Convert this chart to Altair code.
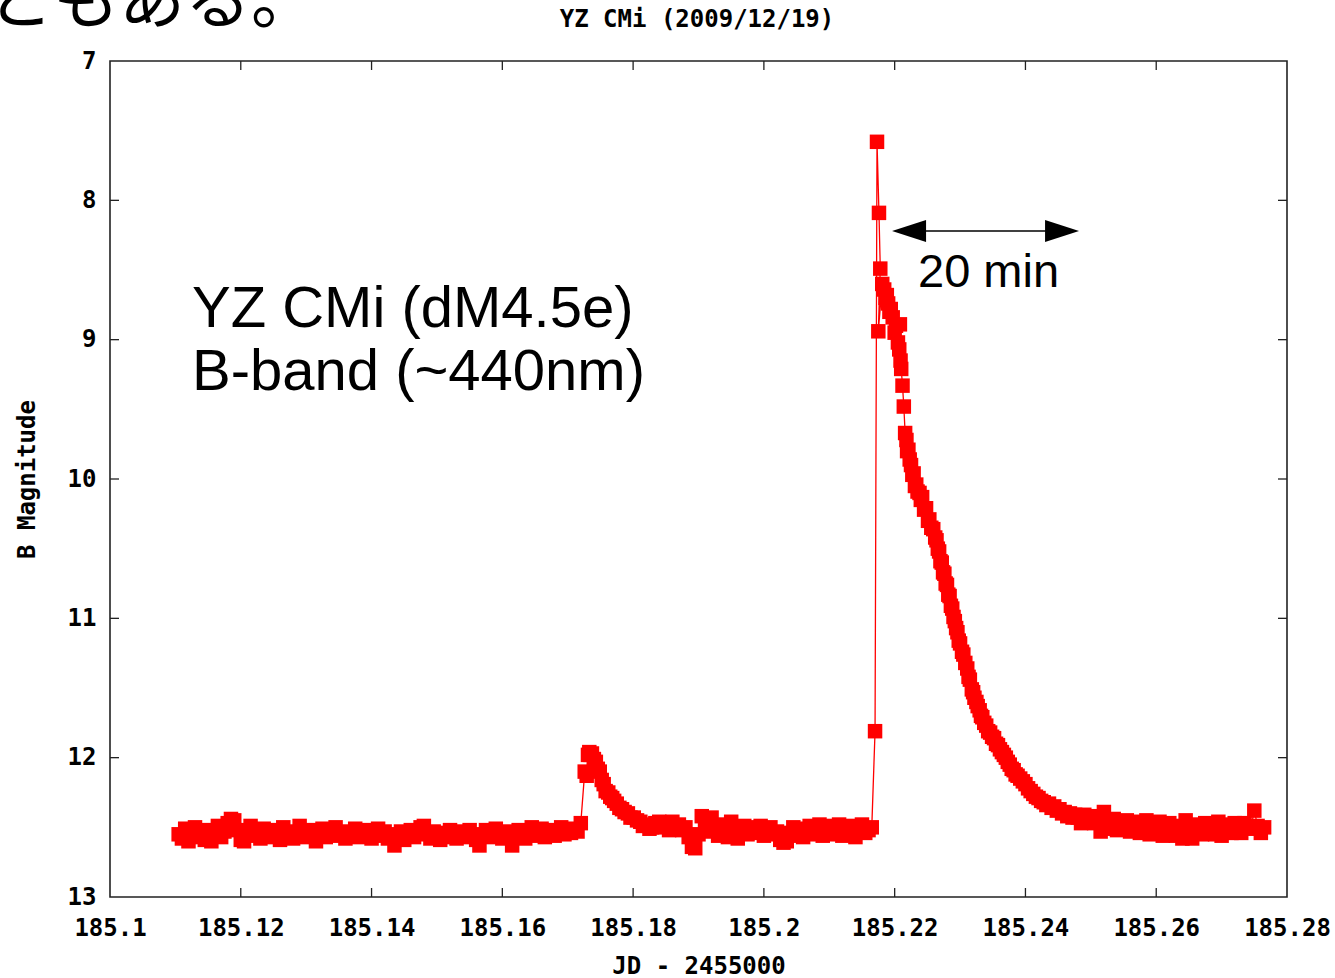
import altair as alt
import pandas as pd

# ---- light curve data (JD - 2455000, B magnitude) ----
quiet1_jd = [185.1105, 185.1110, 185.1115, 185.1120, 185.1125, 185.1130, 185.1135, 185.1140, 185.1145, 185.1150,
             185.1155, 185.1160, 185.1165, 185.1170, 185.1175, 185.1180, 185.1185, 185.1190, 185.1195, 185.1200,
             185.1205, 185.1210, 185.1215, 185.1220, 185.1225, 185.1230, 185.1235, 185.1240, 185.1245, 185.1250,
             185.1255, 185.1260, 185.1265, 185.1270, 185.1275, 185.1280, 185.1285, 185.1290, 185.1295, 185.1300,
             185.1305, 185.1310, 185.1315, 185.1320, 185.1325, 185.1330, 185.1335, 185.1340, 185.1345, 185.1350,
             185.1355, 185.1360, 185.1365, 185.1370, 185.1375, 185.1380, 185.1385, 185.1390, 185.1395, 185.1400,
             185.1405, 185.1410, 185.1415, 185.1420, 185.1425, 185.1430, 185.1435, 185.1440, 185.1445, 185.1450,
             185.1455, 185.1460, 185.1465, 185.1470, 185.1475, 185.1480, 185.1485, 185.1490, 185.1495, 185.1500,
             185.1505, 185.1510, 185.1515, 185.1520, 185.1525, 185.1530, 185.1535, 185.1540, 185.1545, 185.1550,
             185.1555, 185.1560, 185.1565, 185.1570, 185.1575, 185.1580, 185.1585, 185.1590, 185.1595, 185.1600,
             185.1605, 185.1610, 185.1615, 185.1620, 185.1625, 185.1630, 185.1635, 185.1640, 185.1645, 185.1650,
             185.1655, 185.1660, 185.1665, 185.1670, 185.1675, 185.1680, 185.1685, 185.1690, 185.1695, 185.1700,
             185.1705, 185.1710, 185.1715, 185.1720]
quiet1_mag = [12.55, 12.58, 12.51, 12.60, 12.56, 12.50, 12.57, 12.53, 12.59, 12.52,
              12.60, 12.55, 12.49, 12.57, 12.53, 12.47, 12.44, 12.45, 12.52, 12.59,
              12.60, 12.54, 12.49, 12.56, 12.52, 12.58, 12.51, 12.55, 12.57, 12.52,
              12.54, 12.59, 12.50, 12.56, 12.53, 12.58, 12.54, 12.49, 12.55, 12.57,
              12.52, 12.56, 12.60, 12.54, 12.51, 12.57, 12.55, 12.53, 12.50, 12.56,
              12.54, 12.58, 12.53, 12.55, 12.51, 12.57, 12.54, 12.56, 12.52, 12.58,
              12.54, 12.51, 12.56, 12.53, 12.58, 12.55, 12.63, 12.57, 12.53, 12.59,
              12.55, 12.52, 12.57, 12.54, 12.50, 12.49, 12.55, 12.58, 12.53, 12.56,
              12.59, 12.54, 12.57, 12.52, 12.56, 12.58, 12.53, 12.55, 12.57, 12.52,
              12.56, 12.59, 12.63, 12.55, 12.52, 12.57, 12.54, 12.51, 12.56, 12.58,
              12.53, 12.57, 12.63, 12.56, 12.52, 12.55, 12.58, 12.53, 12.50, 12.56,
              12.54, 12.51, 12.57, 12.55, 12.52, 12.56, 12.53, 12.50, 12.55, 12.52,
              12.54, 12.51, 12.53, 12.47]

small_flare_jd = [185.1726, 185.1729, 185.1731, 185.1733, 185.1735, 185.1737, 185.1740, 185.1743,
                  185.1746, 185.1749, 185.1752, 185.1755, 185.1758, 185.1762, 185.1765, 185.1768,
                  185.1771, 185.1775, 185.1779, 185.1783, 185.1787, 185.1792, 185.1796, 185.1801,
                  185.1806, 185.1811, 185.1815, 185.1820, 185.1825, 185.1829, 185.1834]
small_flare_mag = [12.10, 12.13, 11.98, 11.96, 11.98, 11.97, 12.01, 12.03,
                   12.08, 12.10, 12.16, 12.19, 12.24, 12.25, 12.28, 12.29,
                   12.31, 12.33, 12.36, 12.37, 12.39, 12.40, 12.43, 12.43,
                   12.45, 12.46, 12.49, 12.48, 12.51, 12.50, 12.47]

quiet2_jd = [185.1840, 185.1845, 185.1850, 185.1855, 185.1860, 185.1865, 185.1870, 185.1875, 185.1880, 185.1885,
             185.1890, 185.1895, 185.1900, 185.1905, 185.1910, 185.1915, 185.1920, 185.1925, 185.1930, 185.1935,
             185.1940, 185.1945, 185.1950, 185.1955, 185.1960, 185.1965, 185.1970, 185.1975, 185.1980, 185.1985,
             185.1990, 185.1995, 185.2000, 185.2005, 185.2010, 185.2015, 185.2020, 185.2025, 185.2030, 185.2035,
             185.2040, 185.2045, 185.2050, 185.2055, 185.2060, 185.2065, 185.2070, 185.2075, 185.2080, 185.2085,
             185.2090, 185.2095, 185.2100, 185.2105, 185.2110, 185.2115, 185.2120, 185.2125, 185.2130, 185.2135,
             185.2140, 185.2145, 185.2150, 185.2155, 185.2160, 185.2165]
quiet2_mag = [12.46, 12.50, 12.47, 12.52, 12.46, 12.50, 12.48, 12.52, 12.50, 12.57,
              12.64, 12.65, 12.55, 12.42, 12.47, 12.53, 12.43, 12.50, 12.56, 12.48,
              12.52, 12.57, 12.46, 12.51, 12.58, 12.53, 12.49, 12.55, 12.50, 12.54,
              12.52, 12.49, 12.56, 12.52, 12.50, 12.55, 12.53, 12.59, 12.61, 12.60,
              12.54, 12.50, 12.56, 12.52, 12.57, 12.51, 12.49, 12.55, 12.52, 12.48,
              12.56, 12.53, 12.49, 12.55, 12.52, 12.48, 12.56, 12.51, 12.49, 12.55,
              12.57, 12.50, 12.48, 12.54, 12.52, 12.50]

big_flare_jd = [185.2170, 185.2173, 185.2176, 185.2178, 185.2175, 185.2181, 185.2184, 185.2186,
                185.2188, 185.2190, 185.2192, 185.2194, 185.2197, 185.2200, 185.2202, 185.2208,
                185.2205, 185.2207, 185.2209, 185.2210, 185.2212, 185.2214]
big_flare_mag = [11.81, 7.58, 8.09, 8.49, 8.94, 8.60, 8.64, 8.70,
                 8.68, 8.74, 8.80, 8.78, 8.84, 8.95, 8.90, 8.89,
                 9.02, 9.07, 9.15, 9.21, 9.33, 9.48]

decay_jd = [185.2216, 185.2218, 185.2219, 185.2221, 185.2223, 185.2225, 185.2227, 185.2229, 185.2231, 185.2233,
            185.2235, 185.2238, 185.2240, 185.2242, 185.2245, 185.2248, 185.2251, 185.2253, 185.2256, 185.2259,
            185.2262, 185.2264, 185.2266, 185.2268, 185.2270, 185.2272, 185.2274, 185.2276, 185.2278, 185.2280,
            185.2282, 185.2284, 185.2286, 185.2288, 185.2290, 185.2292, 185.2294, 185.2296, 185.2298, 185.2300,
            185.2303, 185.2305, 185.2308, 185.2311, 185.2313, 185.2315, 185.2318, 185.2320, 185.2322, 185.2325,
            185.2327, 185.2330, 185.2332, 185.2334, 185.2337, 185.2340, 185.2343, 185.2346, 185.2349, 185.2352,
            185.2355, 185.2358, 185.2361, 185.2364, 185.2367, 185.2370, 185.2373, 185.2376, 185.2379, 185.2382,
            185.2385, 185.2388, 185.2392, 185.2396, 185.2400, 185.2404, 185.2408, 185.2412, 185.2416, 185.2420,
            185.2424, 185.2428, 185.2432, 185.2436, 185.2440, 185.2444, 185.2448, 185.2452, 185.2456, 185.2460,
            185.2464, 185.2468, 185.2472, 185.2476]
decay_mag = [9.67, 9.72, 9.80, 9.79, 9.86, 9.90, 9.97, 9.96, 10.05, 10.04,
             10.09, 10.10, 10.15, 10.13, 10.22, 10.21, 10.30, 10.29, 10.35, 10.36,
             10.42, 10.44, 10.50, 10.52, 10.59, 10.60, 10.67, 10.68, 10.75, 10.76,
             10.83, 10.84, 10.91, 10.93, 10.99, 11.02, 11.07, 11.10, 11.16, 11.18,
             11.24, 11.26, 11.32, 11.36, 11.42, 11.44, 11.51, 11.53, 11.57, 11.60,
             11.63, 11.66, 11.70, 11.71, 11.75, 11.77, 11.81, 11.82, 11.85, 11.86,
             11.90, 11.91, 11.94, 11.96, 11.98, 12.00, 12.03, 12.05, 12.08, 12.09,
             12.12, 12.13, 12.15, 12.17, 12.19, 12.22, 12.24, 12.26, 12.28, 12.29,
             12.31, 12.32, 12.34, 12.33, 12.36, 12.35, 12.38, 12.37, 12.40, 12.39,
             12.42, 12.40, 12.43, 12.41]

tail_jd = [185.2480, 185.2485, 185.2490, 185.2495, 185.2500, 185.2505, 185.2510, 185.2515, 185.2520, 185.2525,
           185.2530, 185.2535, 185.2540, 185.2545, 185.2550, 185.2555, 185.2560, 185.2565, 185.2570, 185.2575,
           185.2580, 185.2585, 185.2590, 185.2595, 185.2600, 185.2605, 185.2610, 185.2615, 185.2620, 185.2625,
           185.2630, 185.2635, 185.2640, 185.2645, 185.2650, 185.2655, 185.2660, 185.2665, 185.2670, 185.2675,
           185.2680, 185.2685, 185.2690, 185.2695, 185.2700, 185.2705, 185.2710, 185.2715, 185.2720, 185.2725,
           185.2730, 185.2735, 185.2740, 185.2745, 185.2750, 185.2755, 185.2760, 185.2765]
tail_mag = [12.43, 12.47, 12.41, 12.46, 12.44, 12.47, 12.42, 12.53, 12.39, 12.48,
            12.51, 12.44, 12.52, 12.47, 12.50, 12.45, 12.53, 12.48, 12.46, 12.54,
            12.50, 12.45, 12.55, 12.49, 12.52, 12.46, 12.56, 12.50, 12.47, 12.53,
            12.56, 12.49, 12.58, 12.45, 12.52, 12.58, 12.50, 12.48, 12.55, 12.47,
            12.52, 12.49, 12.55, 12.46, 12.56, 12.50, 12.48, 12.54, 12.47, 12.52,
            12.54, 12.47, 12.51, 12.50, 12.38, 12.49, 12.54, 12.50]

# axis ticks / labels
x_label_values = [185.1, 185.12, 185.14, 185.16, 185.18, 185.2, 185.22, 185.24, 185.26, 185.28]
x_inner_ticks = [185.12, 185.14, 185.16, 185.18, 185.2, 185.22, 185.24, 185.26]
y_label_values = [7, 8, 9, 10, 11, 12, 13]
y_inner_ticks = [8, 9, 10, 11, 12]

title_text = "YZ CMi (2009/12/19)"
x_title = "JD - 2455000"
y_title = "B Magnitude"
note_line1 = "YZ CMi (dM4.5e)"
note_line2 = "B-band (~440nm)"
arrow_text = "20 min"
slide_text = "ともある。"

# ---- build table ----
jd = quiet1_jd + small_flare_jd + quiet2_jd + big_flare_jd + decay_jd + tail_jd
mag = quiet1_mag + small_flare_mag + quiet2_mag + big_flare_mag + decay_mag + tail_mag
df = pd.DataFrame({"jd": jd, "mag": mag, "idx": list(range(len(jd)))})
one = pd.DataFrame({"k": [0]})

W, H = 1177, 836
RED = "#ff0000"
FRAME = "#222222"
MONO = "DejaVu Sans Mono"
SANS = "Liberation Sans"
FS = 24

xscale = alt.Scale(domain=[185.1, 185.28], nice=False, zero=False)
yscale = alt.Scale(domain=[7, 13], reverse=True, nice=False, zero=False)

xaxis = alt.Axis(values=x_label_values, format="~g", title=x_title, grid=False, domain=False,
                 ticks=False, tickSize=0, labelFont=MONO, labelFontSize=FS, labelFontWeight="bold",
                 labelColor="black", labelPadding=19, labelFlush=False, labelOverlap=False,
                 titleFont=MONO, titleFontSize=FS, titleFontWeight="bold", titleColor="black",
                 titlePadding=14)
yaxis = alt.Axis(values=y_label_values, format="d", title=y_title, grid=False, domain=False,
                 ticks=False, tickSize=0, labelFont=MONO, labelFontSize=FS, labelFontWeight="bold",
                 labelColor="black", labelPadding=14, labelFlush=False, labelOverlap=False,
                 titleFont=MONO, titleFontSize=FS, titleFontWeight="bold", titleColor="black",
                 titlePadding=28)

base = alt.Chart(df).encode(
    x=alt.X("jd:Q", scale=xscale, axis=xaxis),
    y=alt.Y("mag:Q", scale=yscale, axis=yaxis),
)
line = base.mark_line(color=RED, strokeWidth=1.3).encode(order="idx:Q")
points = base.mark_square(size=210, color=RED, opacity=1, filled=True)

xt = pd.DataFrame({"jd": x_inner_ticks})
yt = pd.DataFrame({"mag": y_inner_ticks})
tick_top = alt.Chart(xt).mark_rule(color=FRAME, strokeWidth=1.3).encode(
    x=alt.X("jd:Q", scale=xscale, axis=xaxis), y=alt.value(0), y2=alt.value(9))
tick_bottom = alt.Chart(xt).mark_rule(color=FRAME, strokeWidth=1.3).encode(
    x=alt.X("jd:Q", scale=xscale, axis=xaxis), y=alt.value(H - 9), y2=alt.value(H))
tick_left = alt.Chart(yt).mark_rule(color=FRAME, strokeWidth=1.3).encode(
    y=alt.Y("mag:Q", scale=yscale, axis=yaxis), x=alt.value(0), x2=alt.value(9))
tick_right = alt.Chart(yt).mark_rule(color=FRAME, strokeWidth=1.3).encode(
    y=alt.Y("mag:Q", scale=yscale, axis=yaxis), x=alt.value(W - 9), x2=alt.value(W))

# annotation: double arrow "20 min"
arrow_line = alt.Chart(one).mark_rule(color="black", strokeWidth=1.5).encode(
    x=alt.datum(185.2222), x2=alt.datum(185.2456), y=alt.datum(8.22))
arrow_left = alt.Chart(one).mark_point(
    shape="M -1 0 L 1 -0.65 L 1 0.65 Z", size=1156, filled=True, color="black",
    opacity=1, strokeWidth=0).encode(x=alt.datum(185.2222), y=alt.datum(8.22))
arrow_right = alt.Chart(one).mark_point(
    shape="M 1 0 L -1 -0.65 L -1 0.65 Z", size=1156, filled=True, color="black",
    opacity=1, strokeWidth=0).encode(x=alt.datum(185.2456), y=alt.datum(8.22))
arrow_label = alt.Chart(one).mark_text(
    text=arrow_text, align="left", baseline="alphabetic", font=SANS, fontSize=47,
    color="black").encode(x=alt.datum(185.22357), y=alt.datum(8.62))

note1 = alt.Chart(one).mark_text(
    text=note_line1, align="left", baseline="alphabetic", font=SANS, fontSize=58,
    color="black").encode(x=alt.datum(185.11254), y=alt.datum(8.909))
note2 = alt.Chart(one).mark_text(
    text=note_line2, align="left", baseline="alphabetic", font=SANS, fontSize=58,
    color="black").encode(x=alt.datum(185.11254), y=alt.datum(9.361))

# chart title and the slide text cut at the top edge (as in the reference)
title = alt.Chart(one).mark_text(
    text=title_text, align="center", baseline="alphabetic", font=MONO, fontSize=FS,
    fontWeight="bold", color="black").encode(x=alt.value(587), y=alt.value(-34))
slide = alt.Chart(one).mark_text(
    text=slide_text, align="left", baseline="alphabetic", font="Noto Sans CJK JP",
    fontSize=66, color="black").encode(x=alt.value(-123), y=alt.value(-38))

chart = alt.layer(
    line, points, tick_top, tick_bottom, tick_left, tick_right,
    arrow_line, arrow_left, arrow_right, arrow_label, note1, note2, title, slide,
).properties(
    width=W, height=H,
    background="white",
    autosize=alt.AutoSizeParams(type="none"),
    padding={"left": 110, "top": 61, "right": 48, "bottom": 81},
).configure_view(
    stroke=FRAME, strokeWidth=1.6
)

chart.save("out.html", embed_options={"renderer": "svg", "actions": False})
